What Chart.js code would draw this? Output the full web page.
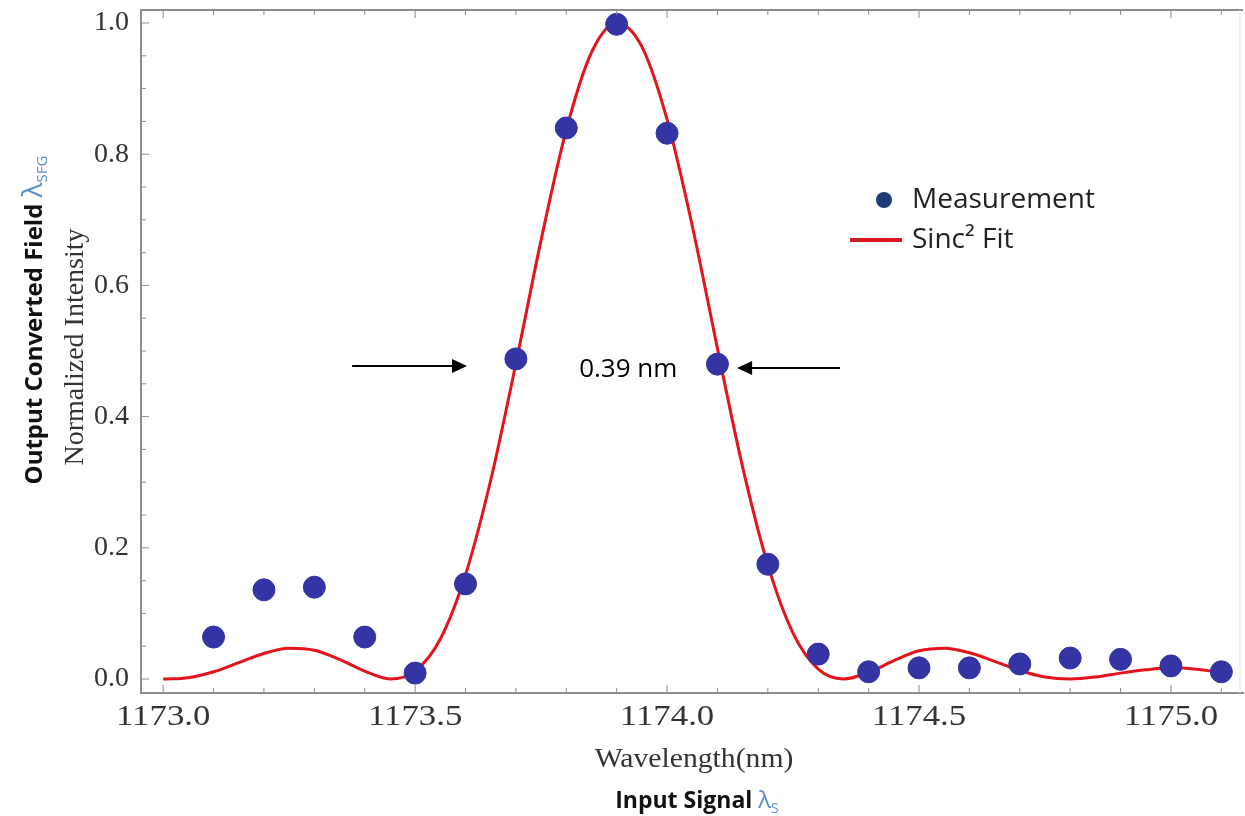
<!DOCTYPE html>
<html>
<head>
<meta charset="utf-8">
<title>Sinc2 fit</title>
<script src="https://cdn.jsdelivr.net/npm/chart.js@4.4.0/dist/chart.umd.min.js"></script>
<style>
  body { margin: 0; background: #fff; }
  #wrap { width: 1245px; height: 816px; }
</style>
</head>
<body>
<div id="wrap"><canvas id="chart" width="1245" height="816"></canvas></div>
<script>
// Datos
const measX = [1173.1, 1173.2, 1173.3, 1173.4, 1173.5, 1173.6, 1173.7, 1173.8, 1173.9, 1174.0,
               1174.1, 1174.2, 1174.3, 1174.4, 1174.5, 1174.6, 1174.7, 1174.8, 1174.9, 1175.0, 1175.1];
const measY = [0.064, 0.136, 0.140, 0.064, 0.009, 0.145, 0.488, 0.840, 0.998, 0.832,
               0.480, 0.175, 0.038, 0.011, 0.017, 0.017, 0.023, 0.032, 0.030, 0.020, 0.011];

const fitX = [1173.00, 1173.05, 1173.10, 1173.15, 1173.20, 1173.25, 1173.30, 1173.35, 1173.40, 1173.45,
              1173.50, 1173.55, 1173.60, 1173.65, 1173.70, 1173.75, 1173.80, 1173.85, 1173.90, 1173.95,
              1174.00, 1174.05, 1174.10, 1174.15, 1174.20, 1174.25, 1174.30, 1174.35, 1174.40, 1174.45,
              1174.50, 1174.55, 1174.60, 1174.65, 1174.70, 1174.75, 1174.80, 1174.85, 1174.90, 1174.95,
              1175.00, 1175.05, 1175.10];
const fitY = [0.000, 0.002, 0.011, 0.025, 0.039, 0.047, 0.044, 0.030, 0.012, 0.000,
              0.012, 0.061, 0.159, 0.303, 0.481, 0.669, 0.837, 0.955, 1.000, 0.964,
              0.853, 0.691, 0.504, 0.323, 0.174, 0.070, 0.015, 0.000, 0.010, 0.028,
              0.043, 0.047, 0.040, 0.027, 0.013, 0.003, 0.000, 0.003, 0.009, 0.014,
              0.017, 0.015, 0.010];

const xTickLabels = [1173.0, 1173.5, 1174.0, 1174.5, 1175.0];
const yTickLabels = [0.0, 0.2, 0.4, 0.6, 0.8, 1.0];

const frameColor = '#8c8c8c';
const blue = '#5b8fd0';

// Marcas pequeñas hacia dentro
const xMinor = [];
for (let i = 0; i <= 21; i++) xMinor.push(1173 + i * 0.1);
const yMinor = [];
for (let i = 0; i <= 20; i++) yMinor.push(i * 0.05);

// Dibuja un texto con partes de distinto estilo
function richText(ctx, parts, x, y, align) {
    let total = 0;
    parts.forEach(p => { ctx.font = p.font; total += ctx.measureText(p.text).width; });
    let cx = align === 'center' ? x - total / 2 : x;
    parts.forEach(p => {
        ctx.font = p.font;
        ctx.fillStyle = p.color;
        ctx.textAlign = 'left';
        ctx.textBaseline = 'alphabetic';
        ctx.fillText(p.text, cx, y + (p.dy || 0));
        cx += ctx.measureText(p.text).width;
    });
}

function arrow(ctx, x1, y1, x2, y2) {
    const dir = Math.sign(x2 - x1);
    ctx.beginPath();
    ctx.moveTo(x1, y1);
    ctx.lineTo(x2 - dir * 12, y2);
    ctx.stroke();
    ctx.beginPath();
    ctx.moveTo(x2, y2);
    ctx.lineTo(x2 - dir * 15, y2 - 7);
    ctx.lineTo(x2 - dir * 15, y2 + 7);
    ctx.closePath();
    ctx.fill();
}

const decorPlugin = {
    id: 'decor',
    afterDraw(chart) {
        const { ctx, chartArea: a, scales: { x, y } } = chart;
        ctx.save();

        // marco superior y derecho
        ctx.strokeStyle = frameColor;
        ctx.lineWidth = 2;
        ctx.beginPath();
        ctx.moveTo(a.left, a.top);
        ctx.lineTo(a.right, a.top);
        ctx.stroke();
        ctx.strokeStyle = '#e2e2e2';
        ctx.lineWidth = 1;
        ctx.beginPath();
        ctx.moveTo(a.right - 3, a.top);
        ctx.lineTo(a.right - 3, a.bottom);
        ctx.stroke();

        // ticks
        ctx.strokeStyle = frameColor;
        ctx.lineWidth = 1;
        xMinor.forEach(v => {
            const px = x.getPixelForValue(v);
            const major = Math.abs(v * 2 - Math.round(v * 2)) < 1e-6;
            const len = major ? 8 : 5;
            ctx.beginPath();
            ctx.moveTo(px, a.bottom);
            ctx.lineTo(px, a.bottom - len);
            ctx.moveTo(px, a.top);
            ctx.lineTo(px, a.top + len);
            ctx.stroke();
        });
        yMinor.forEach(v => {
            const py = y.getPixelForValue(v);
            const major = Math.abs(v * 5 - Math.round(v * 5)) < 1e-6;
            const len = major ? 8 : 5;
            ctx.beginPath();
            ctx.moveTo(a.left, py);
            ctx.lineTo(a.left + len, py);
            ctx.stroke();
        });

        // etiquetas del eje x (algo estiradas, como en la figura)
        ctx.fillStyle = '#333';
        ctx.font = '29px "Liberation Serif"';
        ctx.textAlign = 'center';
        ctx.textBaseline = 'top';
        xTickLabels.forEach(v => {
            ctx.save();
            ctx.translate(x.getPixelForValue(v), a.bottom + 10);
            ctx.scale(1.2, 1);
            ctx.fillText(v.toFixed(1), 0, 0);
            ctx.restore();
        });

        // flechas del ancho 0.39 nm
        ctx.strokeStyle = '#000';
        ctx.fillStyle = '#000';
        ctx.lineWidth = 2;
        arrow(ctx, x.getPixelForValue(1173.375), y.getPixelForValue(0.477),
                   x.getPixelForValue(1173.603), y.getPixelForValue(0.477));
        arrow(ctx, x.getPixelForValue(1174.343), y.getPixelForValue(0.474),
                   x.getPixelForValue(1174.139), y.getPixelForValue(0.474));
        ctx.font = '26px "Open Sans"';
        ctx.textAlign = 'center';
        ctx.textBaseline = 'middle';
        ctx.fillText('0.39 nm', x.getPixelForValue(1173.923), y.getPixelForValue(0.471));

        // leyenda
        ctx.fillStyle = '#1c3d78';
        ctx.beginPath();
        ctx.arc(884, 200, 8, 0, Math.PI * 2);
        ctx.fill();
        ctx.strokeStyle = '#d7191f';
        ctx.lineWidth = 4;
        ctx.beginPath();
        ctx.moveTo(850, 240);
        ctx.lineTo(902, 240);
        ctx.stroke();
        ctx.fillStyle = '#222';
        ctx.font = '28px "Open Sans"';
        ctx.textAlign = 'left';
        ctx.textBaseline = 'middle';
        ctx.fillText('Measurement', 912, 200);
        ctx.fillText('Sinc\u00B2 Fit', 912, 240);

        // titulos de los ejes
        ctx.save();
        ctx.translate(694, 760);
        ctx.scale(1.06, 1);
        ctx.fillStyle = '#333';
        ctx.font = '28px "Liberation Serif"';
        ctx.textAlign = 'center';
        ctx.textBaseline = 'middle';
        ctx.fillText('Wavelength(nm)', 0, 0);
        ctx.restore();

        richText(ctx, [
            { text: 'Input Signal ', font: 'bold 23px "Open Sans"', color: '#111' },
            { text: '\u03BB', font: '24px "Open Sans"', color: blue },
            { text: 'S', font: '14px "Open Sans"', color: blue, dy: 5 }
        ], 697, 808, 'center');

        ctx.save();
        ctx.translate(76, 347);
        ctx.rotate(-Math.PI / 2);
        ctx.fillStyle = '#333';
        ctx.font = '28px "Liberation Serif"';
        ctx.textAlign = 'center';
        ctx.textBaseline = 'middle';
        ctx.fillText('Normalized Intensity', 0, 0, 245);
        ctx.restore();

        ctx.save();
        ctx.translate(42, 320);
        ctx.rotate(-Math.PI / 2);
        richText(ctx, [
            { text: 'Output Converted Field ', font: 'bold 24px "Open Sans"', color: '#111' },
            { text: '\u03BB', font: '28px "Open Sans"', color: blue },
            { text: 'SFG', font: '15px "Open Sans"', color: blue, dy: 5 }
        ], 0, 0, 'center');
        ctx.restore();

        ctx.restore();
    }
};

const ctx = document.getElementById('chart').getContext('2d');
const chart = new Chart(ctx, {
    type: 'scatter',
    data: {
        datasets: [
            {
                label: 'Measurement',
                data: measX.map((v, i) => ({ x: v, y: measY[i] })),
                backgroundColor: '#3434a4',
                borderColor: '#3434a4',
                pointRadius: 11,
                pointHoverRadius: 11,
                order: 0
            },
            {
                label: 'Sinc² Fit',
                data: fitX.map((v, i) => ({ x: v, y: fitY[i] })),
                showLine: true,
                borderColor: '#e3141c',
                borderWidth: 3,
                pointRadius: 0,
                cubicInterpolationMode: 'monotone',
                order: 1
            }
        ]
    },
    options: {
        responsive: false,
        animation: false,
        layout: { autoPadding: false, padding: { left: 0, right: 2, top: 10, bottom: 0 } },
        plugins: {
            legend: { display: false },
            tooltip: { enabled: false }
        },
        scales: {
            x: {
                type: 'linear',
                min: 1172.956,
                max: 1175.143,
                grid: { display: false },
                border: { display: true, color: frameColor, width: 2 },
                afterBuildTicks: scale => { scale.ticks = xTickLabels.map(v => ({ value: v })); },
                afterFit: scale => {
                    scale.height = 123;
                    scale.paddingLeft = 0;
                    scale.paddingRight = 0;
                },
                ticks: {
                    display: false,
                    callback: v => v.toFixed(1)
                }
            },
            y: {
                type: 'linear',
                min: -0.0213,
                max: 1.0198,
                grid: { display: false },
                border: { display: true, color: frameColor, width: 2 },
                afterBuildTicks: scale => { scale.ticks = yTickLabels.map(v => ({ value: v })); },
                afterFit: scale => {
                    scale.width = 141;
                    scale.paddingTop = 0;
                    scale.paddingBottom = 0;
                },
                ticks: {
                    padding: 4,
                    color: '#333',
                    font: { family: 'Liberation Serif', size: 28 },
                    callback: v => v.toFixed(1)
                }
            }
        }
    },
    plugins: [decorPlugin]
});
</script>
</body>
</html>
